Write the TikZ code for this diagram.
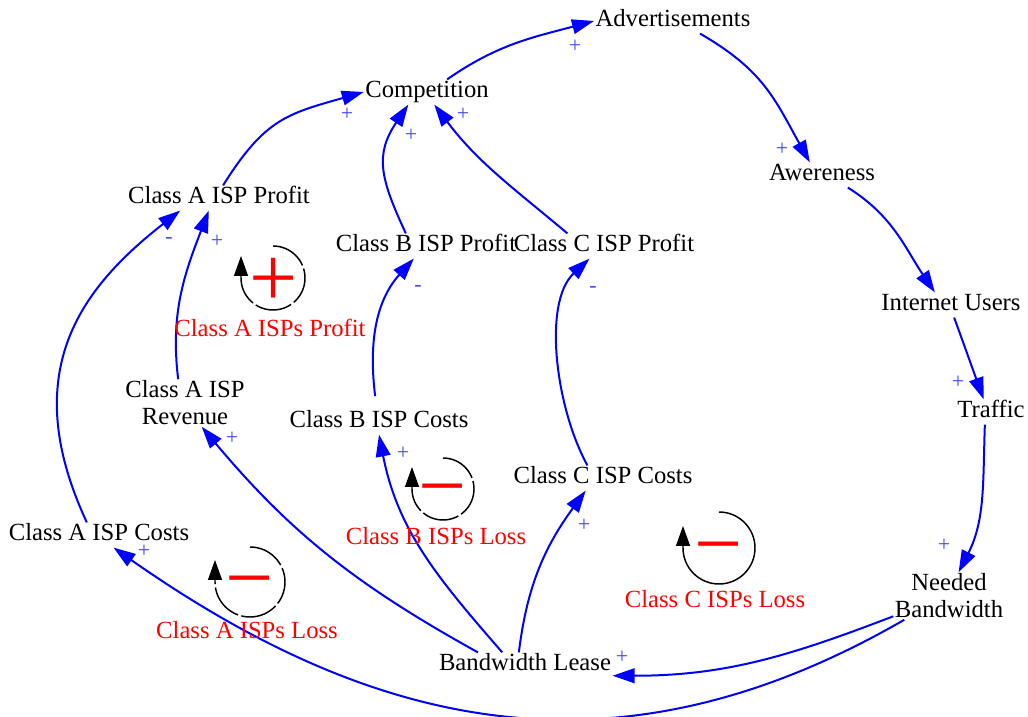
\documentclass[tikz,border=0pt]{standalone}
\usepackage{fontspec}
\setmainfont{Liberation Serif}
\usetikzlibrary{arrows.meta}
\definecolor{linkblue}{RGB}{0,0,255}
\definecolor{signblue}{RGB}{70,70,255}
\definecolor{loopred}{RGB}{255,0,0}
\newcommand{\varfont}{\fontsize{18.5}{20.25}\selectfont}
\tikzset{
  var/.style={inner sep=1pt, text height=12.5pt, text depth=4pt, font=\varfont},
  var2/.style={inner sep=1pt, align=center, font=\varfont},
  loopname/.style={var, text=loopred},
  pol/.style={inner sep=0pt, text=signblue, font=\fontsize{16.5}{16.5}\selectfont},
  sign/.style={inner sep=0pt, text=loopred, font=\fontsize{64}{64}\selectfont},
  link/.style={draw=linkblue, line width=1.5pt, -{Triangle[length=16.5pt,width=11pt]}},
  looparc/.style={draw=black, line width=1.1pt, -{Triangle[length=15pt,width=10.5pt]}},
  broken/.style={dash pattern=on 28pt off 2.5pt},
}

\begin{document}
\begin{tikzpicture}[x=0.75pt, y=0.75pt]
  \useasboundingbox (0,0) rectangle (1028,717);
  % variables
  \node[var] (adv) at (673,696) {Advertisements};
  \node[var] (comp) at (427,625) {Competition};
  \node[var] (awe) at (822,542) {Awereness};
  \node[var] (apro) at (219,519) {Class A ISP Profit};
  \node[var] (bpro) at (426,471) {Class B ISP Profit};
  \node[var] (cpro) at (604,471) {Class C ISP Profit};
  \node[var] (users) at (951,412) {Internet Users};
  \node[var2] (arev) at (185,314) {Class A ISP\\Revenue};
  \node[var] (bcost) at (379,295) {Class B ISP Costs};
  \node[var] (traffic) at (991,305) {Traffic};
  \node[var] (ccost) at (603,239) {Class C ISP Costs};
  \node[var] (acost) at (99,182) {Class A ISP Costs};
  \node[var2] (need) at (949,121) {Needed\\Bandwidth};
  \node[var] (lease) at (525,52) {Bandwidth Lease};
  % links
  \draw[link] (comp.32) to[out=35, in=195] (adv.west);
  \draw[link] (adv.-25) to[out=-30, in=119, looseness=1.1] (awe.134);
  \draw[link] (awe.-26) to[out=-32, in=124] (users.142);
  \draw[link] (users.-76) to[out=-70, in=110] (traffic.120);
  \draw[link] (traffic.-116) to[out=-92, in=63] (need.68);
  \draw[link] (need.-160) to[out=-159, in=0] (lease.-7);
  \draw[link] (need.-152) to[out=-150, in=-35, looseness=1.05] (acost.-41);
  \draw[link] (lease.165) to[out=151, in=-50] (arev.-55);
  \draw[link] (lease.151) to[out=131, in=-79] (bcost.south);
  \draw[link] (lease.116) to[out=83, in=-126] (ccost.-144);
  \draw[link] (arev.106) to[out=97, in=-111] (apro.-129);
  \draw[link] (acost.134) to[out=115, in=-142, out looseness=1.3, in looseness=1] (apro.-162);
  \draw[link, shorten <=10pt] (bcost.100) to[out=97, in=-132] (bpro.-134);
  \draw[link] (ccost.141) to[out=119, in=-137, looseness=0.8] (cpro.-139);
  \draw[link] (apro.72) to[out=58, in=196, looseness=1.2] (comp.west);
  \draw[link] (bpro.148) to[out=115, in=-124, looseness=1.2] (comp.-146);
  \draw[link] (cpro.161) to[out=140, in=-53] (comp.-60);
  % polarities
  \node[pol] (s1) at (575,671) {+};
  \node[pol] (s2) at (782,568) {+};
  \node[pol] (s3) at (958,335) {+};
  \node[pol] (s4) at (944,172) {+};
  \node[pol] (s5) at (622,60) {+};
  \node[pol] (s6) at (144,166) {+};
  \node[pol] (s7) at (232,279) {+};
  \node[pol] (s8) at (403,264) {+};
  \node[pol] (s9) at (584,192) {+};
  \node[pol] (s10) at (217,476) {+};
  \node[pol] (s11) at (169,476) {-};
  \node[pol] (s12) at (418,428) {-};
  \node[pol] (s13) at (593,427) {-};
  \node[pol] (s14) at (347,603) {+};
  \node[pol] (s15) at (411,582) {+};
  \node[pol] (s16) at (463,603) {+};
  % loops
  \draw[looparc, broken] (273,471) arc[start angle=90, end angle=-180, radius=32] -- ++(0,22);
  \node[sign] (ra) at (274,435) {+};
  \node[loopname] (na) at (270,386) {Class A ISPs Profit};
  \draw[looparc, broken] (443,259) arc[start angle=90, end angle=-180, radius=31] -- ++(0,22);
  \node[sign] (rb) at (443,227) {\vphantom{+}−};
  \node[loopname] (nb) at (436,178) {Class B ISPs Loss};
  \draw[looparc, broken] (250,170) arc[start angle=90, end angle=-180, radius=35] -- ++(0,22);
  \node[sign] (rc) at (250,135) {\vphantom{+}−};
  \node[loopname] (nc) at (247,84) {Class A ISPs Loss};
  \draw[looparc] (719,205) arc[start angle=90, end angle=-180, radius=36] -- ++(0,22);
  \node[sign] (rd) at (719,169) {\vphantom{+}−};
  \node[loopname] (nd) at (715,115) {Class C ISPs Loss};
\end{tikzpicture}
\end{document}
